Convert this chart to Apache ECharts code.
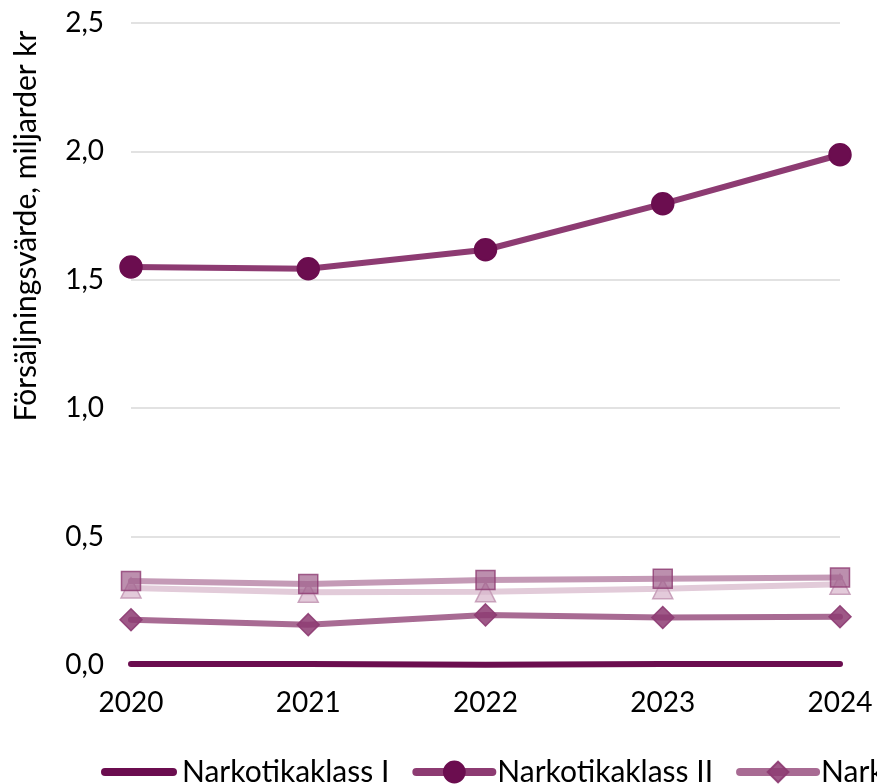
<!DOCTYPE html>
<html>
<head>
<meta charset="utf-8">
<script src="https://cdn.jsdelivr.net/npm/echarts@6/dist/echarts.min.js"></script>
<style>html,body{margin:0;padding:0;background:#fff;}#c{width:877px;height:784px;}</style>
</head>
<body>
<div id="c"></div>
<script>
var years = ['2020', '2021', '2022', '2023', '2024'];
var seriesNames = ['Narkotikaklass I', 'Narkotikaklass II', 'Narkotikaklass III', 'Narkotikaklass IV', 'Narkotikaklass V'];
var klassI = [0.004, 0.004, 0.001, 0.004, 0.004];
var klassII = [1.55, 1.543, 1.617, 1.796, 1.987];
var klassIII = [0.176, 0.157, 0.195, 0.185, 0.188];
var klassIV = [0.327, 0.315, 0.331, 0.336, 0.341];
var klassV = [0.3, 0.283, 0.285, 0.297, 0.314];
var yAxisTitle = 'Försäljningsvärde, miljarder kr';

var font = 'Lato, "Open Sans", sans-serif';
var chart = echarts.init(document.getElementById('c'));
function mk(name, data, lineColor, symbol, size, fill, border, z) {
  return {
    name: name, type: 'line', data: data, z: z,
    symbol: symbol, symbolSize: size, showSymbol: symbol !== 'none',
    lineStyle: { color: lineColor, width: 6, cap: 'round' },
    itemStyle: { color: fill, borderColor: border, borderWidth: 1.5 },
    color: lineColor,
    emphasis: { disabled: true },
    animation: false
  };
}
var barIcon = 'path://M4,0 L72,0 A4,4 0 0 1 72,8 L4,8 A4,4 0 0 1 4,0 Z';
chart.setOption({
  animation: false,
  textStyle: { fontFamily: font },
  grid: { left: 131, right: 37, top: 23, bottom: 119 },
  legend: {
    left: 96, top: 752, width: 3000, itemGap: 23, itemWidth: 76, itemHeight: 26,
    symbolKeepAspect: true,
    lineStyle: { width: 8, cap: 'round' },
    textStyle: { fontSize: 30, color: '#000', fontFamily: font },
    data: [
      { name: seriesNames[0], icon: barIcon, itemStyle: { color: '#6b0d4f', borderWidth: 0 } },
      { name: seriesNames[1] },
      { name: seriesNames[2] },
      { name: seriesNames[3] },
      { name: seriesNames[4] }
    ]
  },
  graphic: [{
    type: 'text', x: 26, y: 226, rotation: Math.PI / 2,
    style: {
      text: yAxisTitle, fontSize: 30, fontFamily: font, fill: '#000',
      align: 'center', verticalAlign: 'middle'
    }
  }],
  xAxis: {
    type: 'category', data: years, boundaryGap: false,
    axisLine: { show: false }, axisTick: { show: false },
    axisLabel: { fontSize: 28, color: '#000', margin: 24, fontFamily: font }
  },
  yAxis: {
    type: 'value', min: 0, max: 2.5, interval: 0.5,
    axisLabel: {
      fontSize: 28, color: '#000', margin: 27, fontFamily: font,
      formatter: function (v) { return v.toFixed(1).replace('.', ','); }
    },
    splitLine: { lineStyle: { color: '#d9d9d9', width: 1.5 } }
  },
  series: [
    mk(seriesNames[0], klassI, '#6b0d4f', 'none', 0, '#6b0d4f', '#6b0d4f', 10),
    mk(seriesNames[1], klassII, '#8d3b72', 'circle', 22, '#6b0d4f', '#6b0d4f', 9),
    mk(seriesNames[2], klassIII, '#a86b93', 'diamond', 22, 'rgba(141,59,114,0.85)', 'rgba(141,59,114,0.9)', 8),
    mk(seriesNames[3], klassIV, '#c49ab6', 'rect', 19, 'rgba(160,95,140,0.7)', 'rgba(141,59,114,0.8)', 7),
    mk(seriesNames[4], klassV, '#e2cbd9', 'triangle', 20, 'rgba(215,180,203,0.7)', 'rgba(196,154,182,0.9)', 6)
  ]
});
</script>
</body>
</html>
